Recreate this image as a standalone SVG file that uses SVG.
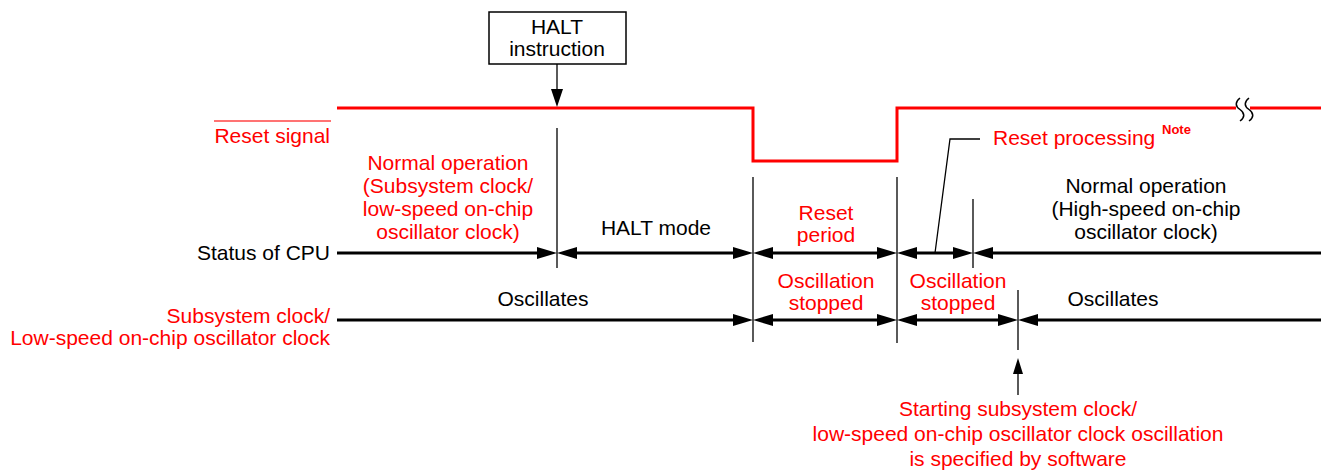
<svg xmlns="http://www.w3.org/2000/svg" width="1325" height="473" viewBox="0 0 1325 473">
  <defs>
    <style>
      text { font-family: "Liberation Sans", Arial, sans-serif; font-size: 21px; }
      .red { fill: #ff0000; }
      .blk { fill: #000000; }
      .mid { text-anchor: middle; }
      .end { text-anchor: end; }
      .note { font-size: 13px; font-weight: bold; }
      .bus { stroke: #000000; stroke-width: 3; fill: none; }
      .div { stroke: #000000; stroke-width: 1.3; fill: none; }
      .sig { stroke: #ff0000; stroke-width: 3; fill: none; }
      .dbl { marker-start: url(#head); marker-end: url(#head); }
      .fwd { marker-end: url(#head); }
      .bwd { marker-start: url(#head); }
    </style>
    <!-- arrowhead whose base sits at the line end -->
    <marker id="head" markerUnits="userSpaceOnUse" markerWidth="20" markerHeight="12" refX="0" refY="6" orient="auto-start-reverse" overflow="visible">
      <path d="M0,0 L20,6 L0,12 z" fill="#000000"/>
    </marker>
    <marker id="tip" markerUnits="userSpaceOnUse" markerWidth="18" markerHeight="12" refX="0" refY="6" orient="auto" overflow="visible">
      <path d="M0,0 L18,6 L0,12 z" fill="#000000"/>
    </marker>
    <marker id="tipSmall" markerUnits="userSpaceOnUse" markerWidth="16" markerHeight="10" refX="0" refY="5" orient="auto" overflow="visible">
      <path d="M0,0 L16,5 L0,10 z" fill="#000000"/>
    </marker>
  </defs>

  <rect width="1325" height="473" fill="#ffffff"/>

  <!-- reset signal waveform -->
  <g id="reset-waveform">
    <path class="sig" d="M337,108 H753 V161 H897 V108 H1236"/>
    <path class="sig" d="M1250,108 H1321"/>
    <!-- break mark -->
    <path d="M1240,98 c-5,4 -5,8 0,11.5 c5,3.5 5,8 0,11.5" stroke="#000000" stroke-width="1.5" fill="none"/>
    <path d="M1249,98 c-5,4 -5,8 0,11.5 c5,3.5 5,8 0,11.5" stroke="#000000" stroke-width="1.5" fill="none"/>
  </g>

  <!-- HALT instruction -->
  <g id="halt-instruction">
    <rect x="489" y="12" width="137" height="52" fill="#ffffff" stroke="#000000" stroke-width="1.5"/>
    <text class="blk mid" x="557" y="34">HALT</text>
    <text class="blk mid" x="557" y="56">instruction</text>
  </g>

  <!-- row labels -->
  <g id="label-reset">
    <line x1="214" y1="121" x2="331" y2="121" stroke="#ff4444" stroke-width="1.5"/>
    <text class="red end" x="330" y="143">Reset signal</text>
  </g>
  <g id="label-cpu">
    <text class="blk end" x="330" y="260">Status of CPU</text>
  </g>
  <g id="label-clock">
    <text class="red end" x="330" y="323">Subsystem clock/</text>
    <text class="red end" x="330" y="345">Low-speed on-chip oscillator clock</text>
  </g>

  <!-- period labels -->
  <g id="normal-op-sub">
    <text class="red mid" x="448" y="170">Normal operation</text>
    <text class="red mid" x="448" y="193">(Subsystem clock/</text>
    <text class="red mid" x="448" y="216">low-speed on-chip</text>
    <text class="red mid" x="448" y="239">oscillator clock)</text>
  </g>
  <g id="halt-mode">
    <text class="blk mid" x="656" y="235">HALT mode</text>
  </g>
  <g id="reset-period">
    <text class="red mid" x="826" y="220">Reset</text>
    <text class="red mid" x="826" y="242">period</text>
  </g>
  <g id="reset-processing">
    <text class="red" x="993" y="145">Reset processing</text>
    <text class="red note" x="1162" y="134">Note</text>
  </g>
  <g id="normal-op-high">
    <text class="blk mid" x="1146" y="193">Normal operation</text>
    <text class="blk mid" x="1146" y="216">(High-speed on-chip</text>
    <text class="blk mid" x="1146" y="239">oscillator clock)</text>
  </g>
  <g id="osc-1">
    <text class="blk mid" x="543" y="306">Oscillates</text>
  </g>
  <g id="osc-stopped-1">
    <text class="red mid" x="826" y="288">Oscillation</text>
    <text class="red mid" x="826" y="310">stopped</text>
  </g>
  <g id="osc-stopped-2">
    <text class="red mid" x="958" y="288">Oscillation</text>
    <text class="red mid" x="958" y="310">stopped</text>
  </g>
  <g id="osc-2">
    <text class="blk mid" x="1113" y="306">Oscillates</text>
  </g>
  <g id="start-by-software">
    <text class="red mid" x="1018" y="416">Starting subsystem clock/</text>
    <text class="red mid" x="1018" y="441">low-speed on-chip oscillator clock oscillation</text>
    <text class="red mid" x="1018" y="466">is specified by software</text>
  </g>

  <!-- connectors: time dividers, interval arrows, pointers -->
  <g id="connectors">
    <line class="div" x1="557" y1="128" x2="557" y2="268"/>
    <line class="div" x1="753" y1="177" x2="753" y2="342"/>
    <line class="div" x1="897" y1="177" x2="897" y2="343"/>
    <line class="div" x1="973" y1="199" x2="973" y2="268"/>
    <line class="div" x1="1018" y1="290" x2="1018" y2="350"/>

    <!-- CPU status intervals -->
    <line class="bus fwd" x1="337" y1="253" x2="537" y2="253"/>
    <line class="bus dbl" x1="577" y1="253" x2="733" y2="253"/>
    <line class="bus dbl" x1="773" y1="253" x2="877" y2="253"/>
    <line class="bus dbl" x1="917" y1="253" x2="953" y2="253"/>
    <line class="bus bwd" x1="993" y1="253" x2="1321" y2="253"/>

    <!-- clock intervals -->
    <line class="bus fwd" x1="337" y1="320" x2="733" y2="320"/>
    <line class="bus dbl" x1="773" y1="320" x2="877" y2="320"/>
    <line class="bus dbl" x1="917" y1="320" x2="998" y2="320"/>
    <line class="bus bwd" x1="1038" y1="320" x2="1321" y2="320"/>

    <!-- HALT instruction pointer -->
    <line class="div" x1="557" y1="64" x2="557" y2="89" marker-end="url(#tip)"/>
    <!-- reset processing leader -->
    <polyline class="div" points="980,139 950,139 935,253"/>
    <!-- software start pointer -->
    <line class="div" x1="1018" y1="395" x2="1018" y2="374" marker-end="url(#tipSmall)"/>
  </g>
</svg>
